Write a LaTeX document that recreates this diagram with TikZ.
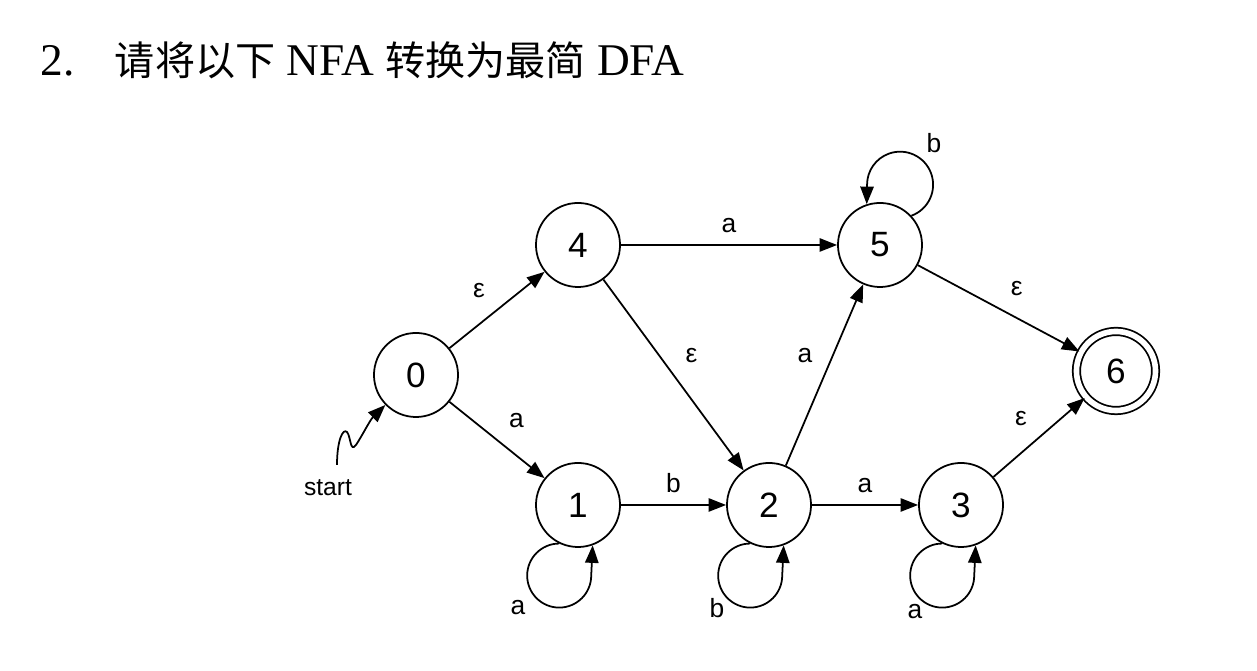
\documentclass[tikz,border=0pt]{standalone}
\usepackage{fontspec}
\setmainfont{Liberation Serif}
\setsansfont{Liberation Sans}
\newfontfamily\cjk{Noto Sans CJK SC}
\usetikzlibrary{automata,arrows.meta}

\begin{document}
\begin{tikzpicture}[x=0.01cm,y=-0.01cm,->,>={Triangle[length=5pt,width=3.8pt]},auto,
		line width=0.5pt,font=\sffamily\fontsize{7.5}{9}\selectfont,inner sep=3.2pt,
		every state/.style={minimum size=0.84cm,inner sep=0pt,font=\sffamily\fontsize{10}{12}\selectfont},
		accepting by double/.append style={double distance=1.6pt}]
		\useasboundingbox (0,0) rectangle (1257,671);
		% 题目
		\node[anchor=base west,font=\rmfamily\fontsize{12.9}{15}\selectfont,inner sep=0pt] (title) at (40,76)
			{2.\hspace{11.4pt}{\cjk\fontsize{11.4}{14}\selectfont 请将以下} NFA {\cjk\fontsize{11.4}{14}\selectfont 转换为最简} DFA};
		
		% 状态
		\node[state] (s0) at (416,375) {0};
		\node[state] (s4) at (578,245) {4};
		\node[state] (s5) at (880,245) {5};
		\node[state,accepting,minimum size=0.79cm] (s6) at (1116,371) {6};
		\node[state] (s1) at (578,505) {1};
		\node[state] (s2) at (769,505) {2};
		\node[state] (s3) at (961,505) {3};
		
		\path
		(s0) edge node {ε} (s4)
		(s0) edge node {a} (s1)
		(s4) edge node {a} (s5)
		(s4) edge node {ε} (s2)
		(s1) edge node {b} (s2)
		(s2) edge node {a} (s5)
		(s2) edge node {a} (s3)
		(s5) edge node {ε} (s6)
		(s3) edge node {ε} (s6);
		
		% 自环
		\draw (s1.-116) arc[start angle=90,end angle=360,radius=0.32cm] -- (s1.-70);
		\draw (s2.-116) arc[start angle=90,end angle=360,radius=0.32cm] -- (s2.-70);
		\draw (s3.-116) arc[start angle=90,end angle=360,radius=0.32cm] -- (s3.-70);
		\draw (s5.43) arc[start angle=-70,end angle=180,radius=0.33cm] -- (s5.108);
		\node (l1) at (518,608) {a};
		\node (l2) at (717,608) {b};
		\node (l3) at (915,612) {a};
		\node (l5) at (934,143) {b};
		
		% start
		\coordinate (st) at (337,465);
		\node[font=\sffamily\fontsize{7}{8}\selectfont] (startlab) at (328,488) {start};
		\draw (st) .. controls (337,440) and (343,428) .. (347,432)
			.. controls (351,437) and (350,453) .. (356,445)
			.. controls (362,436) and (370,420) .. (s0);
\end{tikzpicture}
\end{document}
